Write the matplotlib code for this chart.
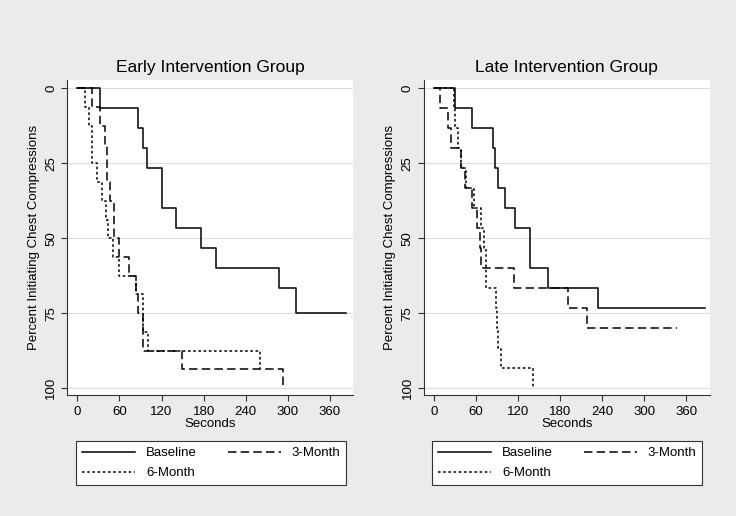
import matplotlib
matplotlib.use("Agg")
import matplotlib.pyplot as plt
from matplotlib.lines import Line2D
from matplotlib import font_manager

names = {f.name for f in font_manager.fontManager.ttflist}
fam = [f for f in ["Liberation Sans", "DejaVu Sans"] if f in names] or ["DejaVu Sans"]
plt.rcParams["font.family"] = fam

# ---- data (event time in s, cumulative % initiating)
early_base_t   = [32, 87, 93, 99, 120, 140, 176, 198, 287, 311]
early_base_p   = [6.67, 13.33, 20, 26.67, 40, 46.67, 53.33, 60, 66.67, 75]
early_base_end = 383
early_3m_t     = [21, 33, 39, 42, 47, 52, 59, 74, 84, 87, 93, 149, 293]
early_3m_p     = [6.25, 12.5, 18.75, 31.25, 37.5, 50, 56.25, 62.5, 68.75, 75, 87.5, 93.75, 100]
early_3m_end   = 293
early_6m_t     = [11, 17, 21, 28, 35, 41, 44, 51, 59, 84, 93, 101, 260]
early_6m_p     = [6.25, 12.5, 25, 31.25, 37.5, 43.75, 50, 56.25, 62.5, 68.75, 81.25, 87.5, 93.75]
early_6m_end   = 260

late_base_t    = [30, 55, 85, 87, 92, 101, 116, 137, 163, 234]
late_base_p    = [6.67, 13.33, 20, 26.67, 33.33, 40, 46.67, 60, 66.67, 73.33]
late_base_end  = 386
late_3m_t      = [9, 21, 25, 39, 44, 55, 62, 66, 67, 114, 192, 218]
late_3m_p      = [6.67, 13.33, 20, 26.67, 33.33, 40, 46.67, 53.33, 60, 66.67, 73.33, 80]
late_3m_end    = 346
late_6m_t      = [29, 30, 35, 39, 46, 58, 67, 72, 74, 88, 90, 92, 96, 141]
late_6m_p      = [6.67, 13.33, 20, 26.67, 33.33, 40, 46.67, 53.33, 66.67, 73.33, 80, 86.67, 93.33, 100]
late_6m_end    = 141

titles = ["Early Intervention Group", "Late Intervention Group"]
series_labels = ["Baseline", "3-Month", "6-Month"]
xticks = [0, 60, 120, 180, 240, 300, 360]
yticks = [0, 25, 50, 75, 100]

styles = [
    dict(color="black", lw=1.1, ls="-"),
    dict(color="black", lw=1.1, ls=(0, (5.5, 2.8))),
    dict(color="black", lw=1.1, ls=(0, (1.7, 1.7))),
]

panels = [
    [(early_base_t, early_base_p, early_base_end),
     (early_3m_t, early_3m_p, early_3m_end),
     (early_6m_t, early_6m_p, early_6m_end)],
    [(late_base_t, late_base_p, late_base_end),
     (late_3m_t, late_3m_p, late_3m_end),
     (late_6m_t, late_6m_p, late_6m_end)],
]

bg = "#ebebeb"
fig = plt.figure(figsize=(7.36, 5.16), dpi=100, facecolor=bg)

ax_pos = [[0.0917, 0.2345, 0.388, 0.6105], [0.576, 0.2345, 0.388, 0.6105]]
legend_anchor = [(76 / 736, 1 - 441 / 516), (432 / 736, 1 - 441 / 516)]

for i, series in enumerate(panels):
    ax = fig.add_axes(ax_pos[i])
    ax.set_facecolor("white")
    for (t, p, end), st in zip(series, styles):
        xs = [0] + list(t)
        ys = [0] + list(p)
        if end > t[-1]:
            xs.append(end)
            ys.append(p[-1])
        ax.step(xs, ys, where="post", **st)
    ax.set_xlim(-14, 393)
    ax.set_ylim(102.3, -2.8)
    ax.set_xticks(xticks)
    ax.set_yticks(yticks)
    ax.set_yticklabels([str(v) for v in yticks], rotation=90, va="center")
    ax.tick_params(axis="both", labelsize=9.5, length=4, width=0.8, color="#333333")
    ax.tick_params(axis="x", pad=4)
    ax.grid(axis="y", color="#dcdcdc", lw=0.8)
    ax.set_axisbelow(True)
    for s in ["top", "right"]:
        ax.spines[s].set_visible(False)
    for s in ["left", "bottom"]:
        ax.spines[s].set_color("#333333")
        ax.spines[s].set_linewidth(0.8)
    ax.set_xlabel("Seconds", fontsize=9.5, labelpad=0)
    ax.set_ylabel("Percent Initiating Chest Compressions", fontsize=9.5, labelpad=4)
    ax.set_title(titles[i], fontsize=12.5, pad=6)

    # column-first fill: Baseline, 6-Month | 3-Month
    order = [0, 2, 1]
    handles = [Line2D([], [], **styles[k]) for k in order]
    labels = [series_labels[k] for k in order]
    leg = fig.legend(handles, labels, ncol=2, loc="upper left",
                     bbox_to_anchor=legend_anchor[i], borderaxespad=0,
                     fontsize=9.5, frameon=True, fancybox=False,
                     edgecolor="#333333", facecolor="white", framealpha=1,
                     handlelength=4.0, handletextpad=0.85, columnspacing=2.35,
                     labelspacing=0.6, borderpad=0.45)
    leg.get_frame().set_linewidth(0.8)

fig.savefig("out.png", dpi=100, facecolor=bg)
